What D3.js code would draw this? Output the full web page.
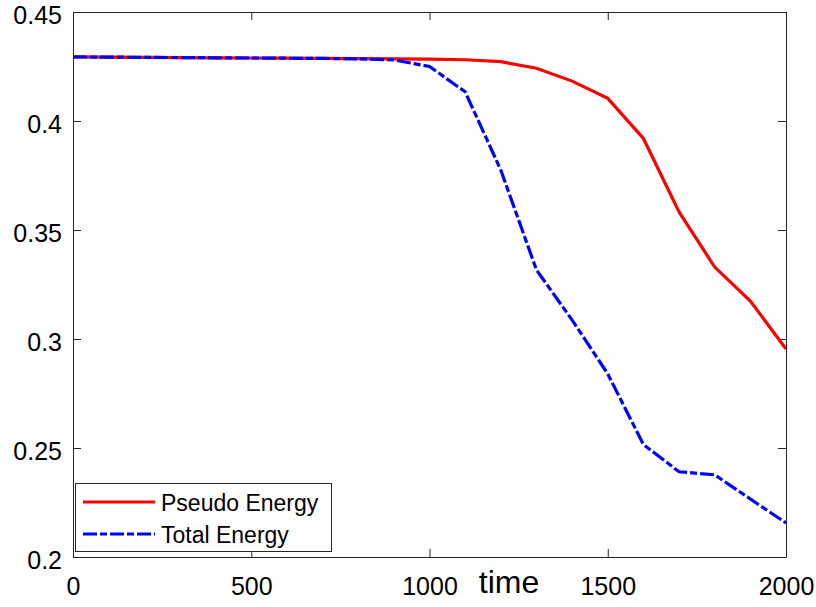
<!DOCTYPE html>
<html><head><meta charset="utf-8">
<script src="https://cdn.jsdelivr.net/npm/d3@7"></script>
<style>body{margin:0;background:#fff}svg{display:block}text{font-family:"Liberation Sans",Arial,sans-serif}</style>
</head><body><svg id="c" width="816" height="607"></svg>
<script>
const times = [0,100,200,300,400,500,600,700,800,900,1000,1100,1200,1300,1400,1500,1600,1700,1800,1900,2000];
const pseudoEnergy = [0.4294,0.4293,0.4292,0.4291,0.4290,0.4289,0.4288,0.4287,0.4286,0.4285,0.4284,0.4281,0.4272,0.4242,0.4183,0.4104,0.3920,0.3583,0.3330,0.3174,0.2954];
const totalEnergy  = [0.4294,0.4293,0.4292,0.4291,0.4290,0.4289,0.4288,0.4287,0.4285,0.4280,0.4250,0.4134,0.3775,0.3317,0.3087,0.2840,0.2516,0.2391,0.2377,0.2266,0.2156];
const xTicks = [0,500,1000,1500,2000];
const yTicks = [0.2,0.25,0.3,0.35,0.4,0.45];
const seriesNames = ["Pseudo Energy","Total Energy"];

const svg = d3.select("#c");
const L=73,R=786,T=12,B=557;
const x = d3.scaleLinear().domain([0,2000]).range([L,R]);
const y = d3.scaleLinear().domain([0.2,0.45]).range([B,T]);

const fmtY = d => String(+d.toFixed(2));
svg.append("g").attr("transform",`translate(0,${B})`)
  .call(d3.axisBottom(x).tickValues(xTicks).tickSizeInner(-8).tickSizeOuter(0).tickPadding(20).tickFormat(d3.format("d")))
  .call(g=>{g.select(".domain").attr("stroke","#262626");g.selectAll("line").attr("stroke","#262626");g.selectAll("text").attr("font-size",25).attr("fill","#000").attr("font-family","Liberation Sans, Arial, sans-serif");});
svg.append("g").attr("transform",`translate(0,${T})`)
  .call(d3.axisTop(x).tickValues(xTicks).tickSizeInner(-8).tickSizeOuter(0).tickFormat(""))
  .call(g=>{g.select(".domain").attr("stroke","#262626");g.selectAll("line").attr("stroke","#262626");});
svg.append("g").attr("transform",`translate(${L},0)`)
  .call(d3.axisLeft(y).tickValues(yTicks).tickSizeInner(-8).tickSizeOuter(0).tickPadding(11).tickFormat(fmtY))
  .call(g=>{g.select(".domain").attr("stroke","#262626");g.selectAll("line").attr("stroke","#262626");g.selectAll("text").attr("font-size",25).attr("dy","0.44em").attr("fill","#000").attr("font-family","Liberation Sans, Arial, sans-serif");});
svg.append("g").attr("transform",`translate(${R},0)`)
  .call(d3.axisRight(y).tickValues(yTicks).tickSizeInner(-8).tickSizeOuter(0).tickFormat(""))
  .call(g=>{g.select(".domain").attr("stroke","#262626");g.selectAll("line").attr("stroke","#262626");});

svg.append("clipPath").attr("id","clip").append("rect").attr("x",L).attr("y",T-3).attr("width",R-L).attr("height",B-T+6);
const line = d3.line().x((d,i)=>x(times[i])).y(d=>y(d));
svg.append("path").datum(pseudoEnergy).attr("d",line).attr("fill","none").attr("stroke","#ff0000").attr("stroke-width",3.2).attr("clip-path","url(#clip)");
svg.append("path").datum(totalEnergy).attr("d",line).attr("fill","none").attr("stroke","#0000ff").attr("stroke-width",3.2).attr("stroke-dasharray","14,3,7,3").attr("clip-path","url(#clip)");

svg.append("text").attr("x",509).attr("y",593).attr("text-anchor","middle").attr("font-size",32).text("time");

const lg = svg.append("g");
lg.append("rect").attr("x",75.5).attr("y",483.5).attr("width",256).attr("height",68).attr("fill","#fff").attr("stroke","#262626").attr("stroke-width",1);
const colors=["#ff0000","#0000ff"], dashes=[null,"14,3,7,3"];
seriesNames.forEach((n,i)=>{
  const yy = 502 + i*32;
  lg.append("line").attr("x1",83).attr("x2",155).attr("y1",yy).attr("y2",yy).attr("stroke",colors[i]).attr("stroke-width",3.2).attr("stroke-dasharray",dashes[i]);
  lg.append("text").attr("x",161).attr("y",yy+8.5).attr("font-size",23).text(n);
});
</script></body></html>
